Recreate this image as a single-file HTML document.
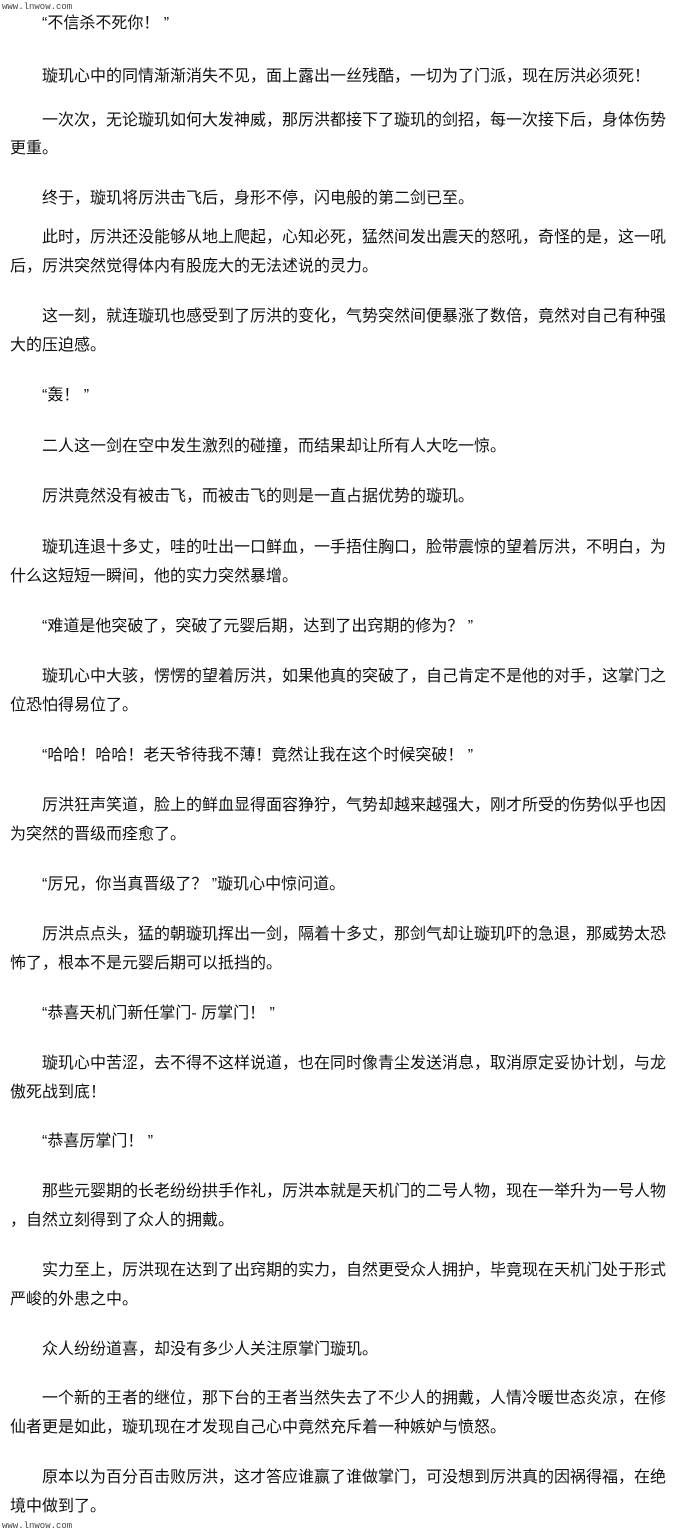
<!DOCTYPE html>
<html><head><meta charset="utf-8"><style>
body{margin:0;width:680px;height:1533px;background:#fff;position:relative;overflow:hidden;font-family:"Liberation Sans","Noto Sans CJK SC",sans-serif;}
.l{position:absolute;left:10px;font-size:16px;line-height:18px;height:18px;white-space:nowrap;color:#111;}
.i{left:42px;}
.w{position:absolute;left:2px;font-family:"Liberation Mono",monospace;font-size:9px;color:#444;}
</style></head><body>
<div class="w" style="top:2px">www.lnwow.com</div>
<div class="l i" style="top:15px">“不信杀不死你！ ”</div>
<div class="l i" style="top:68px">璇玑心中的同情渐渐消失不见，面上露出一丝残酷，一切为了门派，现在厉洪必须死！</div>
<div class="l i" style="top:112px">一次次，无论璇玑如何大发神威，那厉洪都接下了璇玑的剑招，每一次接下后，身体伤势</div>
<div class="l" style="top:140px">更重。</div>
<div class="l i" style="top:190px">终于，璇玑将厉洪击飞后，身形不停，闪电般的第二剑已至。</div>
<div class="l i" style="top:229px">此时，厉洪还没能够从地上爬起，心知必死，猛然间发出震天的怒吼，奇怪的是，这一吼</div>
<div class="l" style="top:258px">后，厉洪突然觉得体内有股庞大的无法述说的灵力。</div>
<div class="l i" style="top:308px">这一刻，就连璇玑也感受到了厉洪的变化，气势突然间便暴涨了数倍，竟然对自己有种强</div>
<div class="l" style="top:337px">大的压迫感。</div>
<div class="l i" style="top:387px">“轰！ ”</div>
<div class="l i" style="top:438px">二人这一剑在空中发生激烈的碰撞，而结果却让所有人大吃一惊。</div>
<div class="l i" style="top:488px">厉洪竟然没有被击飞，而被击飞的则是一直占据优势的璇玑。</div>
<div class="l i" style="top:539px">璇玑连退十多丈，哇的吐出一口鲜血，一手捂住胸口，脸带震惊的望着厉洪，不明白，为</div>
<div class="l" style="top:568px">什么这短短一瞬间，他的实力突然暴增。</div>
<div class="l i" style="top:618px">“难道是他突破了，突破了元婴后期，达到了出窍期的修为？ ”</div>
<div class="l i" style="top:668px">璇玑心中大骇，愣愣的望着厉洪，如果他真的突破了，自己肯定不是他的对手，这掌门之</div>
<div class="l" style="top:697px">位恐怕得易位了。</div>
<div class="l i" style="top:747px">“哈哈！哈哈！老天爷待我不薄！竟然让我在这个时候突破！ ”</div>
<div class="l i" style="top:797px">厉洪狂声笑道，脸上的鲜血显得面容狰狞，气势却越来越强大，刚才所受的伤势似乎也因</div>
<div class="l" style="top:826px">为突然的晋级而痊愈了。</div>
<div class="l i" style="top:876px">“厉兄，你当真晋级了？ ”璇玑心中惊问道。</div>
<div class="l i" style="top:926px">厉洪点点头，猛的朝璇玑挥出一剑，隔着十多丈，那剑气却让璇玑吓的急退，那威势太恐</div>
<div class="l" style="top:955px">怖了，根本不是元婴后期可以抵挡的。</div>
<div class="l i" style="top:1005px">“恭喜天机门新任掌门- 厉掌门！ ”</div>
<div class="l i" style="top:1055px">璇玑心中苦涩，去不得不这样说道，也在同时像青尘发送消息，取消原定妥协计划，与龙</div>
<div class="l" style="top:1084px">傲死战到底！</div>
<div class="l i" style="top:1133px">“恭喜厉掌门！ ”</div>
<div class="l i" style="top:1183px">那些元婴期的长老纷纷拱手作礼，厉洪本就是天机门的二号人物，现在一举升为一号人物</div>
<div class="l" style="top:1212px">，自然立刻得到了众人的拥戴。</div>
<div class="l i" style="top:1262px">实力至上，厉洪现在达到了出窍期的实力，自然更受众人拥护，毕竟现在天机门处于形式</div>
<div class="l" style="top:1291px">严峻的外患之中。</div>
<div class="l i" style="top:1341px">众人纷纷道喜，却没有多少人关注原掌门璇玑。</div>
<div class="l i" style="top:1390px">一个新的王者的继位，那下台的王者当然失去了不少人的拥戴，人情冷暖世态炎凉，在修</div>
<div class="l" style="top:1419px">仙者更是如此，璇玑现在才发现自己心中竟然充斥着一种嫉妒与愤怒。</div>
<div class="l i" style="top:1469px">原本以为百分百击败厉洪，这才答应谁赢了谁做掌门，可没想到厉洪真的因祸得福，在绝</div>
<div class="l" style="top:1498px">境中做到了。</div>
<div class="w" style="top:1521px">www.lnwow.com</div>
</body></html>
